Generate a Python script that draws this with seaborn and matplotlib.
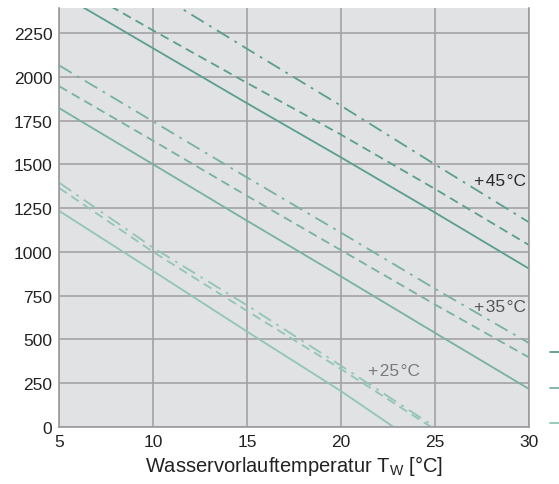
import pandas as pd
import matplotlib.pyplot as plt
import seaborn as sns
from matplotlib.lines import Line2D

# Values
x_full = [5, 10, 15, 20, 25, 30]
t45_solid = [2477, 2163, 1849, 1540, 1225, 905]
t45_dashed = [2570, 2265, 1965, 1670, 1360, 1040]
t45_dashdot = [2820, 2490, 2160, 1835, 1500, 1170]
t35_solid = [1821, 1500, 1178, 860, 538, 218]
t35_dashed = [1946, 1635, 1320, 1010, 700, 398]
t35_dashdot = [2065, 1745, 1425, 1110, 790, 480]
x25_solid = [5, 10, 15, 20, 22.8]
t25_solid = [1234, 891, 545, 205, 0]
x25_dashed = [5, 10, 15, 20, 24.8]
t25_dashed = [1365, 1000, 663, 331, 0]
x25_dashdot = [5, 10, 15, 20, 25]
t25_dashdot = [1395, 1024, 695, 350, 0]

group_labels = ["+45°C", "+35°C", "+25°C"]
y_ticks = [0, 250, 500, 750, 1000, 1250, 1500, 1750, 2000, 2250]
x_ticks = [5, 10, 15, 20, 25, 30]

rows = []
def add(xs, ys, group, kind):
    for a, b in zip(xs, ys):
        rows.append({"x": a, "y": b, "group": group, "kind": kind})

add(x_full, t45_solid, "+45°C", "solid")
add(x_full, t45_dashed, "+45°C", "dashed")
add(x_full, t45_dashdot, "+45°C", "dashdot")
add(x_full, t35_solid, "+35°C", "solid")
add(x_full, t35_dashed, "+35°C", "dashed")
add(x_full, t35_dashdot, "+35°C", "dashdot")
add(x25_solid, t25_solid, "+25°C", "solid")
add(x25_dashed, t25_dashed, "+25°C", "dashed")
add(x25_dashdot, t25_dashdot, "+25°C", "dashdot")
data = pd.DataFrame(rows)

sns.set_style("whitegrid", {
    "axes.facecolor": "#e1e2e4",
    "grid.color": "#a3a3a5",
    "axes.edgecolor": "#9a9a9c",
})
plt.rcParams["font.family"] = ["Liberation Sans", "DejaVu Sans"]

palette = {"+45°C": "#5a9e8f", "+35°C": "#78b1a3", "+25°C": "#92c4b7"}
dashes = {"solid": "", "dashed": (5, 3), "dashdot": (8, 3.5, 1.5, 3.5)}

fig = plt.figure(figsize=(5.59, 4.85), dpi=100)
ax = fig.add_axes([0.106, 0.1175, 0.84, 0.8635])
sns.lineplot(data=data, x="x", y="y", hue="group", style="kind",
             palette=palette, dashes=dashes, linewidth=1.3,
             estimator=None, sort=False, legend=False, ax=ax)

ax.set_xlim(5, 30)
ax.set_ylim(0, 2392)
ax.set_xticks(x_ticks)
ax.set_yticks(y_ticks)
ax.tick_params(length=0, labelsize=12.5, labelcolor="#222222", pad=5)
ax.grid(True, linewidth=1.2)
ax.set_axisbelow(True)
for side in ["left", "bottom", "right"]:
    ax.spines[side].set_visible(True)
    ax.spines[side].set_linewidth(1.2)
ax.spines["top"].set_visible(False)
ax.set_xlabel("Wasservorlauftemperatur T$_\\mathregular{W}$ [°C]", fontsize=14.5,
              color="#222222", labelpad=3)
ax.set_ylabel("")

hair = "\u200a"
ax.text(29.85, 1408, "+" + hair + "45" + hair + "°C", ha="right", va="center",
        fontsize=12.5, color="#2a2a2a")
ax.text(29.85, 690, "+" + hair + "35" + hair + "°C", ha="right", va="center",
        fontsize=12.5, color="#555555")
ax.text(24.2, 320, "+" + hair + "25" + hair + "°C", ha="right", va="center",
        fontsize=12.5, color="#7a7a7a")

# legend cut off at the right edge of the figure
handles = [Line2D([], [], color=palette[g], linewidth=1.3) for g in group_labels]
ax.legend(handles, ["", "", ""], loc="upper left", bbox_to_anchor=(1.045, 0.192),
          frameon=False, handlelength=2.0, labelspacing=1.45, borderpad=0,
          borderaxespad=0, fontsize=10.5)

fig.savefig("out.png", dpi=100)
